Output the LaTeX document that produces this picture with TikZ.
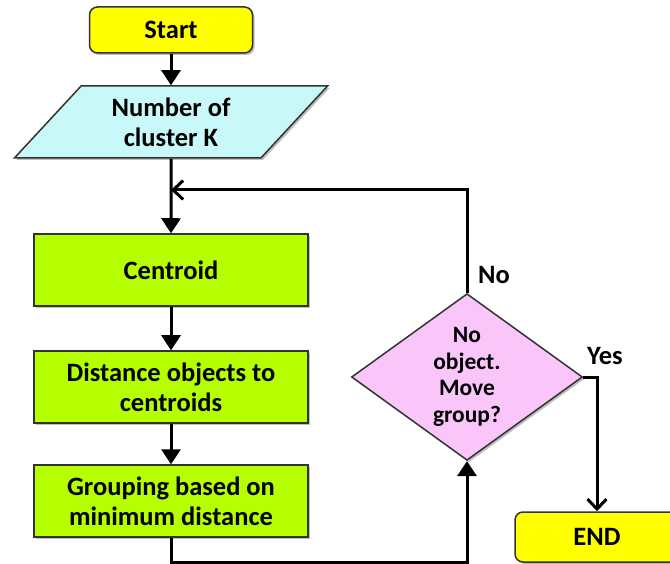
\documentclass[tikz,border=0pt]{standalone}
\usepackage{fontspec}
\setmainfont{Carlito}
\usetikzlibrary{shapes.geometric,arrows.meta,shadows}
\definecolor{termyellow}{RGB}{255,255,0}
\definecolor{iocyan}{RGB}{200,248,248}
\definecolor{procgreen}{RGB}{182,255,0}
\definecolor{decpink}{RGB}{250,198,250}
\begin{document}
\begin{tikzpicture}[x=1pt,y=-1pt,
  every node/.style={font=\bfseries\fontsize{26.5}{30}\selectfont, align=center, text=black},
  shade/.style={drop shadow={shadow xshift=2pt, shadow yshift=-2pt, opacity=0.25, fill=black}},
  term/.style={draw=black!80, line width=1.5pt, fill=termyellow, rounded corners=8pt, minimum width=163pt, minimum height=46pt, shade},
  iobox/.style={draw=black!80, line width=1.5pt, fill=iocyan, trapezium, trapezium stretches=true, trapezium left angle=50, trapezium right angle=130, minimum width=314pt, minimum height=72pt, shade},
  proc/.style={draw=black!80, line width=1.5pt, fill=procgreen, minimum width=274pt, minimum height=72pt, shade},
  dec/.style={draw=black!80, line width=1.5pt, fill=decpink, diamond, minimum width=231pt, minimum height=162pt, inner sep=0pt, font=\bfseries\fontsize{23.5}{26.5}\selectfont, shade},
  conn/.style={line width=3pt, draw=black},
  fill tip/.style={-{Triangle[width=19pt,length=15pt]}},
  open tip/.style={-{Straight Barb[width=19pt,length=10pt,line width=3pt]}},
  lbl/.style={font=\bfseries\fontsize{26.5}{30}\selectfont}
]
\useasboundingbox (0,0) rectangle (670,564);
\fill[white] (0,0) rectangle (670,564);

\node[term] (start) at (171,30) {Start};
\node[iobox] (param) at (171,122) {Number of\\cluster K};
\node[proc] (cent) at (171,270) {Centroid};
\node[proc] (dist) at (171,387) {Distance objects to\\centroids};
\node[proc] (grp) at (171,501) {Grouping based on\\minimum distance};
\node[dec] (chk) at (467,377) {No\\object.\\Move\\group?};
\node[term, minimum width=164pt, minimum height=50pt] (fin) at (597,537) {END};

\coordinate (join) at (171,190);
\coordinate (below) at (171,562);

\draw[conn, fill tip] (start) -- (param);
\draw[conn, fill tip] (param) -- (cent);
\draw[conn, fill tip] (cent) -- (dist);
\draw[conn, fill tip] (dist) -- (grp);
\draw[conn, fill tip] (grp.south) -- (below) -| (chk.south);
\draw[conn, open tip] (chk.north) |- (join);
\draw[conn, open tip] (chk.east) -| (fin.north);

\node[lbl] (nolbl) at (494,275) {No};
\node[lbl] (yeslbl) at (605,356) {Yes};
\end{tikzpicture}
\end{document}
